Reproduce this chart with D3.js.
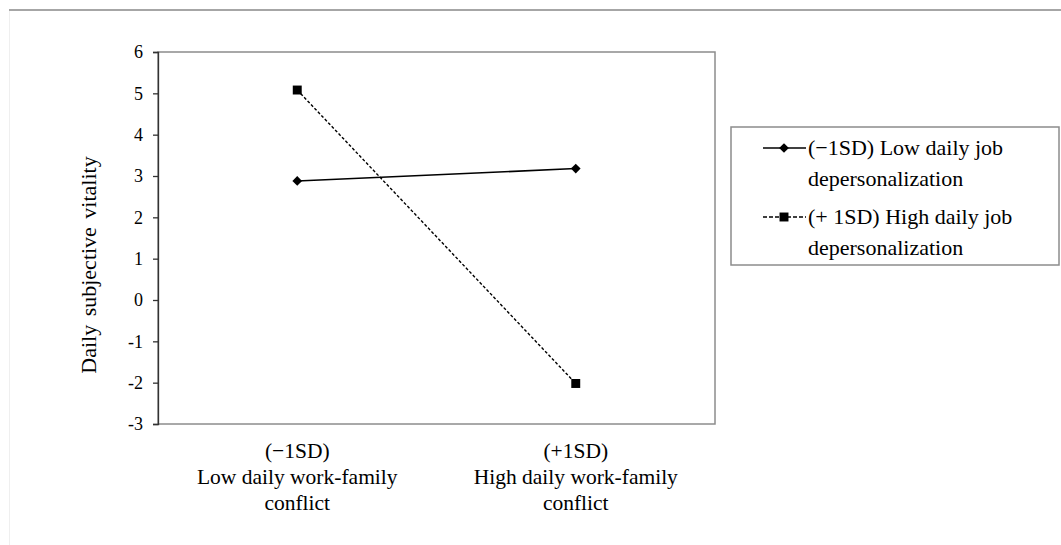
<!DOCTYPE html>
<html><head><meta charset="utf-8">
<script src="https://cdn.jsdelivr.net/npm/d3@7"></script>
<style>
body{margin:0;background:#fff;overflow:hidden}
text{font-family:"Liberation Serif","Times New Roman",serif;fill:#000}
</style>
</head><body>
<svg id="c" width="1061" height="545"></svg>
<script>
const categoryKeys = ["low", "high"];
const categoryLabels = [
  ["(\u22121SD)", "Low daily work-family", "conflict"],
  ["(+1SD)", "High daily work-family", "conflict"]
];
const lowDepersonalization = [2.88, 3.18];
const highDepersonalization = [5.08, -2.02];
const seriesLabels = [
  ["(\u22121SD) Low daily job", "depersonalization"],
  ["(+ 1SD) High daily job", "depersonalization"]
];
const yTicks = [6, 5, 4, 3, 2, 1, 0, -1, -2, -3];
const yTitle = "Daily subjective vitality";

const svg = d3.select("#c");
const P = {l:158, r:715, t:52, b:424};

// page frame
svg.append("line").attr("x1",9).attr("x2",1061).attr("y1",10).attr("y2",10)
  .attr("stroke","#a6a6a6").attr("stroke-width",2);
svg.append("line").attr("x1",9.5).attr("x2",9.5).attr("y1",11).attr("y2",545)
  .attr("stroke","#efefef").attr("stroke-width",1);

const x = d3.scaleBand().domain(categoryKeys).range([P.l, P.r]);
const y = d3.scaleLinear().domain([-3, 6]).range([P.b, P.t]);

// plot frame
svg.append("rect").attr("x",P.l).attr("y",P.t).attr("width",P.r-P.l).attr("height",P.b-P.t)
  .attr("fill","none").attr("stroke","#8c8c8c").attr("stroke-width",1.5);

// y axis
const yAxis = svg.append("g").attr("transform",`translate(${P.l},0)`)
  .call(d3.axisLeft(y).tickValues(yTicks).tickSize(5).tickPadding(10).tickFormat(d3.format("d")));
yAxis.select(".domain").attr("stroke","#333").attr("stroke-width",1.3);
yAxis.selectAll(".tick line").attr("stroke","#333").attr("stroke-width",1.3);
yAxis.selectAll("text").style("font-size","18px").attr("fill","#000");
yAxis.selectAll(".tick text").text(d => d < 0 ? "-" + Math.abs(d) : d);

// y title
svg.append("text").attr("transform",`translate(88,265) rotate(-90)`)
  .attr("text-anchor","middle").attr("dominant-baseline","central")
  .style("font-size","22px").style("word-spacing","3px").text(yTitle);

// x labels
categoryKeys.forEach((k,i) => {
  const cx = x(k) + x.bandwidth()/2;
  const t = svg.append("text").attr("text-anchor","middle").style("font-size","21.5px");
  categoryLabels[i].forEach((ln,j) => {
    t.append("tspan").attr("x",cx).attr("y",458 + j*26).text(ln);
  });
});

// lines
const line = d3.line().x((d,i) => x(categoryKeys[i]) + x.bandwidth()/2).y(d => y(d));
svg.append("path").datum(lowDepersonalization).attr("d",line)
  .attr("fill","none").attr("stroke","#000").attr("stroke-width",1.6);
svg.append("path").datum(highDepersonalization).attr("d",line)
  .attr("fill","none").attr("stroke","#000").attr("stroke-width",1.4).attr("stroke-dasharray","3,2");

const diamond = d3.symbol().type(d3.symbolDiamond2).size(60);
const square = d3.symbol().type(d3.symbolSquare).size(80);
svg.selectAll(".dm").data(lowDepersonalization).join("path")
  .attr("transform",(d,i)=>`translate(${x(categoryKeys[i]) + x.bandwidth()/2},${y(d)})`)
  .attr("d",diamond).attr("fill","#000");
svg.selectAll(".sq").data(highDepersonalization).join("path")
  .attr("transform",(d,i)=>`translate(${x(categoryKeys[i]) + x.bandwidth()/2},${y(d)})`)
  .attr("d",square).attr("fill","#000");

// legend
const L = {x:731, y:127, w:328, h:138};
svg.append("rect").attr("x",L.x).attr("y",L.y).attr("width",L.w).attr("height",L.h)
  .attr("fill","none").attr("stroke","#8c8c8c").attr("stroke-width",1.5);
const legendRows = [148, 217];
legendRows.forEach((ly,i) => {
  const g = svg.append("g");
  g.append("line").attr("x1",763).attr("x2",806).attr("y1",ly).attr("y2",ly)
    .attr("stroke","#000").attr("stroke-width",i===0?1.6:1.4)
    .attr("stroke-dasharray", i===0 ? null : "4,2");
  g.append("path").attr("transform",`translate(784,${ly})`).attr("d", i===0?diamond:square).attr("fill","#000");
  const t = g.append("text").style("font-size","22px");
  seriesLabels[i].forEach((ln,j) => {
    t.append("tspan").attr("x",808).attr("y",ly+7+j*31).text(ln);
  });
});
</script>
</body></html>
